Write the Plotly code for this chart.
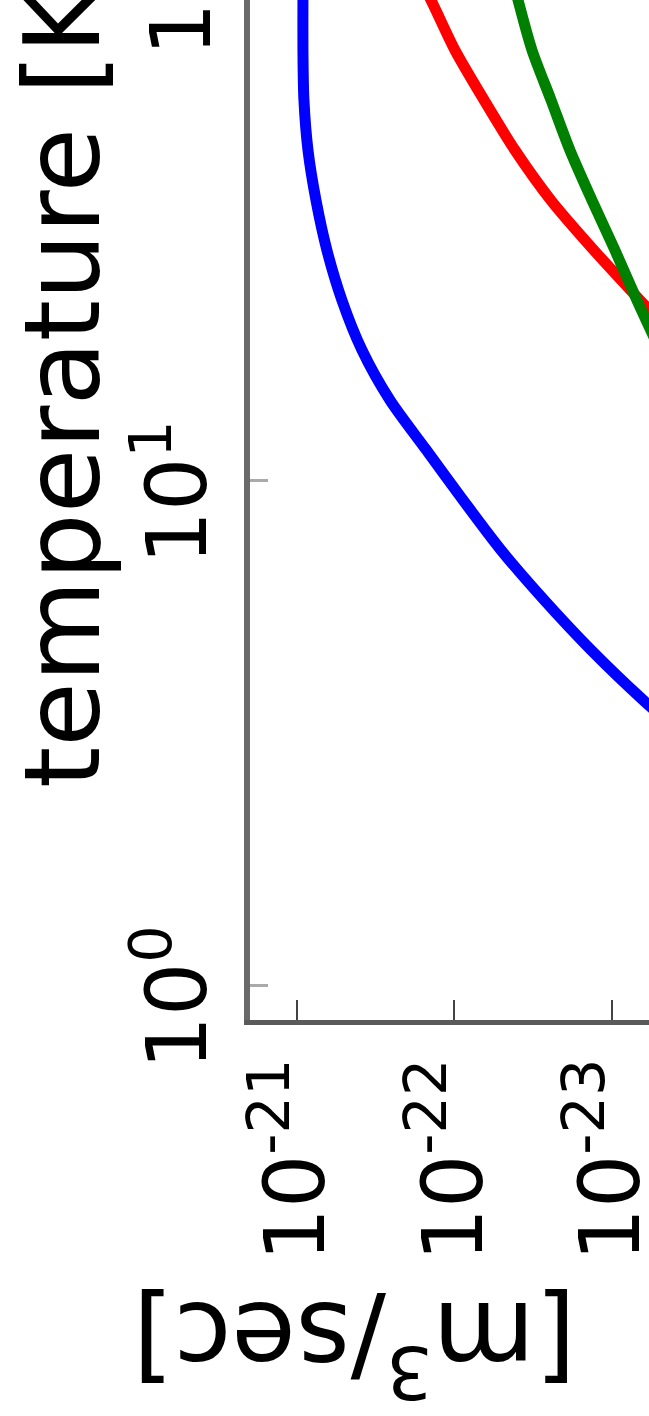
import math
import plotly.graph_objects as go

# ---- data (temperature [K], rate coefficient [m^3/sec]) ----
temp_blue = [117.3, 89.2, 71.0, 56.6, 45.0, 35.8, 28.5, 22.7, 18.1, 14.4,
             11.5, 9.13, 7.27, 5.79, 4.61, 3.67, 2.92]
rate_blue = [9.16e-22, 9.16e-22, 9.16e-22, 9.03e-22, 8.51e-22, 7.57e-22, 6.45e-22,
             5.18e-22, 3.87e-22, 2.57e-22, 1.52e-22, 8.83e-23, 5.07e-23, 2.70e-23,
             1.36e-23, 6.36e-24, 2.76e-24]

temp_red = [117.3, 89.2, 71.0, 56.6, 45.0, 35.8, 28.5, 22.7, 18.1]
rate_red = [2.22e-22, 1.41e-22, 9.93e-23, 6.50e-23, 4.13e-23, 2.44e-23,
            1.30e-23, 6.64e-24, 3.34e-24]

temp_green = [117.3, 89.2, 71.0, 56.6, 45.0, 35.8, 28.5, 22.7, 18.1]
rate_green = [4.92e-23, 3.95e-23, 3.22e-23, 2.44e-23, 1.85e-23, 1.34e-23,
              9.57e-24, 6.94e-24, 4.96e-24]

rate_ticks = [1e-21, 1e-22, 1e-23]
rate_ticktext = ["10<sup>-21</sup>", "10<sup>-22</sup>", "10<sup>-23</sup>"]
temp_ticks = [1, 10]
temp_ticktext = ["10<sup>0</sup>", "10<sup>1</sup>"]
temp_cut_tick = 100
temp_cut_ticktext = "10<sup>2</sup>"

temp_title = "temperature [K]"
rate_title = "[m<sup>3</sup>/sec]"

# visible window (log10 units)
x_range = [-20.702, -23.235]   # reversed: larger rate on the left
y_range = [-0.0693, 1.9505]

FONT = "DejaVu Sans"
TICK_SIZE = 84
TITLE_SIZE = 105

fig = go.Figure()
for t, r, c in [(temp_blue, rate_blue, "rgb(0,0,255)"),
                (temp_red, rate_red, "rgb(255,0,0)"),
                (temp_green, rate_green, "rgb(0,128,0)")]:
    fig.add_trace(go.Scatter(x=r, y=t, mode="lines",
                             line=dict(color=c, width=11, shape="spline", smoothing=0.8),
                             showlegend=False))

fig.update_layout(
    width=649, height=1416,
    margin=dict(l=250, r=0, t=0, b=396, autoexpand=False),
    paper_bgcolor="white", plot_bgcolor="white",
    font=dict(family=FONT, color="black"),
    xaxis=dict(type="log", range=x_range, tickvals=rate_ticks, ticktext=rate_ticktext,
               tickangle=-90, ticks="inside", ticklen=20, tickwidth=2, tickcolor="#444",
               showline=True, linecolor="#5a5a5a", linewidth=5, showgrid=False,
               zeroline=False, automargin=False,
               tickfont=dict(size=TICK_SIZE, family=FONT, color="black"),
               ticklabelstandoff=0, ticklabeloverflow="allow"),
    yaxis=dict(type="log", range=y_range, tickvals=temp_ticks, ticktext=temp_ticktext,
               tickangle=-90, ticks="inside", ticklen=18, tickwidth=3, tickcolor="#aaa",
               showline=True, linecolor="#6a6a6a", linewidth=6, showgrid=False,
               zeroline=False, automargin=False,
               tickfont=dict(size=TICK_SIZE, family=FONT, color="black"),
               ticklabelstandoff=4, ticklabelshift=25),
)

cut_y = (math.log10(temp_cut_tick) - y_range[0]) / (y_range[1] - y_range[0])
fig.add_annotation(text=temp_cut_ticktext, xref="paper", yref="paper",
                   x=-0.045, y=cut_y, yshift=-9, xanchor="right", yanchor="middle",
                   textangle=-90, showarrow=False,
                   font=dict(size=TICK_SIZE, family=FONT, color="black"))
fig.add_annotation(text=temp_title, xref="paper", yref="paper",
                   x=-0.6266, y=0.2255, xanchor="left", yanchor="bottom",
                   textangle=-90, showarrow=False,
                   font=dict(size=TITLE_SIZE, family=FONT, color="black"))
fig.add_annotation(text=rate_title, xref="paper", yref="paper",
                   x=0.262, y=-0.3196, xanchor="center", yanchor="middle",
                   textangle=180, showarrow=False,
                   font=dict(size=TITLE_SIZE, family=FONT, color="black"))

fig.write_html("out.html")
